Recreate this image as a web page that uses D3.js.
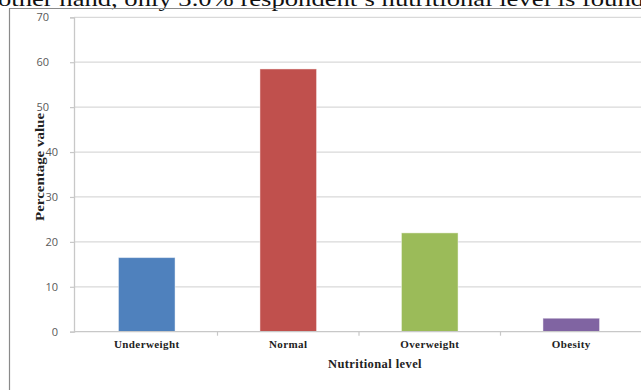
<!DOCTYPE html>
<html>
<head>
<meta charset="utf-8">
<script src="https://cdn.jsdelivr.net/npm/d3@7/dist/d3.min.js"></script>
<style>
  html, body { margin: 0; padding: 0; background: #fff; overflow: hidden; }
  svg { display: block; }
</style>
</head>
<body>
<script>
// Nutritional level of respondents (percentage)
const categories = ["Underweight", "Normal", "Overweight", "Obesity"];
const values = [16.5, 58.5, 22.0, 3.0];
const colors = ["#4F81BD", "#C0504D", "#9BBB59", "#8064A2"];
const yTicks = [0, 10, 20, 30, 40, 50, 60, 70];
const yTitle = "Percentage value";
const xTitle = "Nutritional level";
const runningText = "other hand, only 3.0% respondent\u2019s nutritional level is found";

const W = 641, H = 390;
const svg = d3.select("body").append("svg").attr("width", W).attr("height", H);

// Line of body text above the figure
svg.append("text")
  .attr("x", -2).attr("y", 6)
  .attr("font-family", "'Liberation Serif', 'Times New Roman', serif")
  .attr("font-size", 21)
  .attr("fill", "#111")
  .attr("textLength", 646)
  .attr("lengthAdjust", "spacingAndGlyphs")
  .text(runningText);

// Figure frame
svg.append("path")
  .attr("d", `M9.5,${H} V8.5 H${W}`)
  .attr("fill", "none").attr("stroke", "#8a8a8a").attr("stroke-width", 1.2);

const y = d3.scaleLinear().domain([0, 70]).range([331.7, 17.3]);
const x = d3.scaleBand().domain(categories).range([76, 642])
  .paddingInner(0.6).paddingOuter(0.3);

const axisX = 74;

// Gridlines
svg.append("g").selectAll("line").data(yTicks.filter(d => d > 0)).join("line")
  .attr("x1", axisX).attr("x2", W)
  .attr("y1", d => y(d)).attr("y2", d => y(d))
  .attr("stroke", "#d9d9d9").attr("stroke-width", 1.3);

// Y axis
const yAxis = svg.append("g").attr("transform", `translate(${axisX},0)`)
  .call(d3.axisLeft(y).tickValues(yTicks).tickSize(4).tickPadding(21));
yAxis.select(".domain").attr("stroke", "#c8c8c8").attr("stroke-width", 1.3);
yAxis.selectAll(".tick line").attr("stroke", "#c8c8c8").attr("stroke-width", 1.2);
// lower labels sit nudged right, clear of the rotated title
yAxis.selectAll(".tick text")
  .attr("font-family", "'Open Sans', 'Liberation Sans', sans-serif")
  .attr("font-size", 11).attr("fill", "#595959")
  .attr("dx", d => d <= 40 ? 9 : 0);

// Bars
svg.append("g").selectAll("rect").data(categories).join("rect")
  .attr("x", d => x(d))
  .attr("width", x.bandwidth())
  .attr("y", (d, i) => y(values[i]))
  .attr("height", (d, i) => y(0) - y(values[i]))
  .attr("fill", (d, i) => colors[i])
  .attr("stroke", "#ffffff").attr("stroke-opacity", 0.45).attr("stroke-width", 1);

// X axis baseline with tick marks between categories
const xg = svg.append("g");
xg.append("line")
  .attr("x1", axisX).attr("x2", W)
  .attr("y1", y(0)).attr("y2", y(0))
  .attr("stroke", "#c8c8c8").attr("stroke-width", 1.3);
const step = x.step();
xg.selectAll("line.tk").data(categories.slice(1)).join("line")
  .attr("class", "tk")
  .attr("x1", d => x(d) - step * 0.3).attr("x2", d => x(d) - step * 0.3)
  .attr("y1", y(0)).attr("y2", y(0) + 4)
  .attr("stroke", "#c8c8c8").attr("stroke-width", 1.2);

// Category labels
xg.selectAll("text").data(categories).join("text")
  .attr("x", d => x(d) + x.bandwidth() / 2)
  .attr("y", 348)
  .attr("text-anchor", "middle")
  .attr("font-family", "'Liberation Serif', 'Times New Roman', serif")
  .attr("font-weight", "bold").attr("font-size", 11)
  .attr("letter-spacing", 0.4)
  .attr("fill", "#222")
  .text(d => d);

// Axis titles
svg.append("text")
  .attr("x", 375).attr("y", 368)
  .attr("text-anchor", "middle")
  .attr("font-family", "'Liberation Serif', 'Times New Roman', serif")
  .attr("font-weight", "bold").attr("font-size", 12.5)
  .attr("letter-spacing", 0.4)
  .attr("fill", "#222")
  .text(xTitle);

svg.append("text")
  .attr("transform", "translate(44,167) rotate(-90)")
  .attr("text-anchor", "middle")
  .attr("font-family", "'Liberation Serif', 'Times New Roman', serif")
  .attr("font-weight", "bold").attr("font-size", 13)
  .attr("textLength", 108)
  .attr("lengthAdjust", "spacingAndGlyphs")
  .attr("fill", "#222")
  .text(yTitle);
</script>
</body>
</html>
